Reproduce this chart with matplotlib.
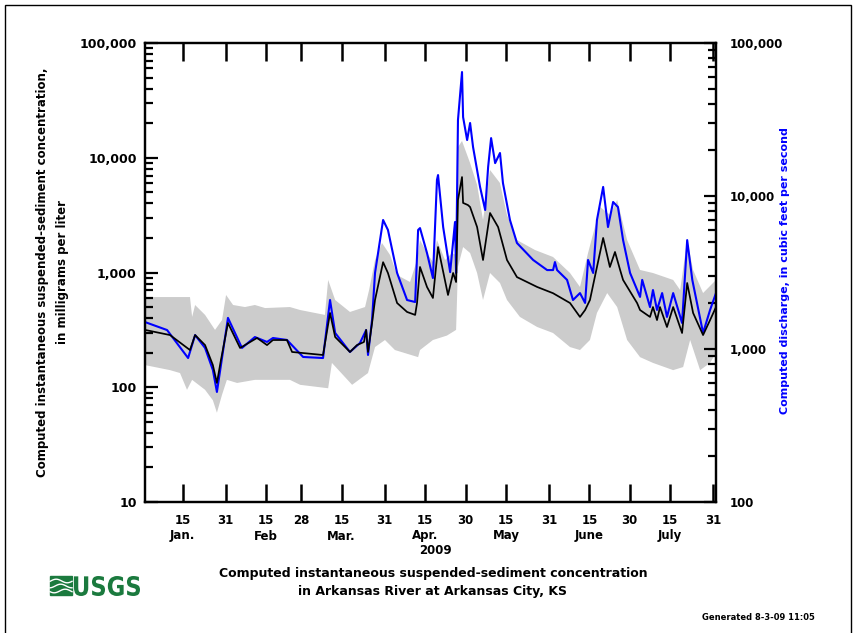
import matplotlib
matplotlib.use('Agg')
import matplotlib.pyplot as plt
import numpy as np
import matplotlib.transforms as mtransforms
from matplotlib.lines import Line2D
from matplotlib.patches import Rectangle, PathPatch
from matplotlib.textpath import TextPath
from matplotlib.font_manager import FontProperties
from matplotlib.ticker import LogLocator, NullFormatter

plt.rcParams['font.family'] = ['DejaVu Sans']
plt.rcParams['font.weight'] = 'bold'

# ---- data (x = days since 1 Jan 2009) ----
conc_days = [0, 9.3, 16.7, 18.6, 22.3, 25.2, 26.7, 28.2, 30.8, 35.3, 41.6, 45.3, 47.5, 52.7, 54.6,
             66.1, 68.7, 70.6, 76.1, 78.7, 81.3, 82.1, 82.8, 84.3, 85.4, 88.4, 90.2, 93.6, 97.3, 100.3,
             101.0, 102.1, 104.7, 106.9, 108.8, 112.5, 114.4, 115.5, 116.2, 117.7, 118.1, 119.9, 120.7,
             123.3, 125.5, 128.1, 131.1, 134.4, 138.1, 145.6, 151.5, 157.8, 161.5, 163.4, 165.2, 167.8,
             170.1, 172.6, 174.5, 176.4, 177.5, 182.7, 183.8, 187.5, 188.6, 190.1, 191.2, 193.8, 196.1,
             199.4, 201.3, 203.5, 207.2, 209.8, 212]
conc_vals = [316, 285, 211, 285, 233, 156, 109, 173, 363, 220, 269, 233, 258, 258, 203,
             191, 444, 274, 203, 233, 248, 316, 203, 363, 576, 1230, 990, 542, 453, 427,
             542, 1117, 748, 600, 1667, 637, 990, 826, 4285, 6790, 4040, 3870, 3720,
             2490, 1285, 3300, 2490, 1285, 912, 748, 660, 542, 410, 471, 576, 1117,
             2000, 1117, 1510, 1052, 861, 542, 471, 410, 500, 385, 500, 335, 500,
             297, 810, 444, 285, 385, 500]

q_days = [0, 8.2, 16.0, 18.6, 22.3, 25.2, 26.7, 28.2, 30.8, 36.0, 40.8, 45.3, 47.5, 52.7, 58.7,
          66.1, 68.7, 70.6, 76.1, 79.8, 82.1, 82.8, 84.3, 85.4, 88.4, 90.2, 93.6, 97.3, 100.3, 101.4,
          102.1, 104.7, 106.9, 108.4, 108.8, 110.7, 113.3, 115.1, 115.5, 116.2, 117.7, 118.1, 119.6,
          120.7, 121.8, 124.4, 126.3, 127.4, 128.5, 130.0, 131.8, 132.9, 135.5, 138.1, 144.1, 149.3,
          151.5, 152.2, 153.0, 156.7, 158.9, 161.5, 163.4, 164.5, 166.4, 167.8, 170.1, 171.9, 173.8,
          175.6, 177.5, 180.1, 183.8, 184.6, 187.5, 188.6, 190.1, 192.0, 193.8, 196.1, 199.4, 201.3,
          203.2, 207.2, 209.8, 212]
q_vals = [1500, 1330, 873, 1233, 1016, 729, 524, 785, 1597, 1016, 1197, 1112, 1180, 1146, 887,
          873, 2090, 1273, 956, 1094, 1330, 914, 1550, 3140, 6970, 6000, 3140, 2090, 2028, 6000,
          6170, 4240, 2910, 12740, 13700, 6270, 3180, 6760, 3140, 31400, 64600, 32800, 23200,
          30000, 20900, 11460, 8100, 15500, 23900, 16400, 19100, 12160, 6970, 4930, 3820, 3280,
          3280, 3700, 3280, 2830, 2090, 2320, 2000, 3820, 3140, 6970, 11460, 6270, 9140,
          8470, 5150, 3140, 2190, 2830, 1880, 2430, 1800, 2320, 1620, 2320, 1480, 5150,
          2830, 1273, 1800, 2320]

up_days = [0, 16.7, 17.5, 18.6, 22.3, 26.0, 28.6, 30.1, 32.7, 37.1, 40.8, 44.6, 53.8, 57.6, 66.8,
           68.0, 70.6, 76.1, 81.7, 83.2, 85.4, 88.0, 91.0, 93.6, 98.4, 101.0, 102.1, 104.7, 106.9,
           108.4, 111.4, 114.0, 115.5, 116.2, 117.7, 120.7, 123.3, 125.5, 128.1, 131.8, 134.4, 138.1,
           144.8, 151.5, 157.8, 161.5, 164.5, 169.0, 172.7, 175.3, 179.0, 183.8, 188.6, 196.1, 198.7,
           201.3, 203.5, 207.2, 212]
up_vals = [611, 611, 410, 521, 427, 316, 385, 637, 521, 500, 521, 490, 500, 471, 427,
           861, 576, 453, 500, 703, 1285, 1807, 1420, 951, 826, 1285, 1918, 1479, 1233,
           1918, 1285, 1479, 1420, 12400, 14000, 8990, 5800, 2870, 7820, 6020, 3170, 1918,
           1570, 1365, 990, 748, 1479, 3720, 3170, 4285, 1918, 1052, 990, 861, 703,
           1918, 1052, 662, 861]

lo_days = [0, 9.3, 13.0, 15.6, 17.5, 22.3, 25.2, 26.7, 28.6, 30.4, 34.2, 40.8, 53.8, 57.6, 68.0,
           69.4, 76.9, 82.8, 85.4, 89.1, 92.8, 101.4, 102.1, 106.9, 112.1, 115.5, 116.2, 118.1,
           120.7, 123.3, 125.5, 128.1, 131.8, 134.4, 139.2, 145.6, 151.5, 157.8, 161.5, 165.2,
           167.8, 171.6, 175.3, 179.0, 183.8, 188.6, 196.1, 199.8, 202.4, 206.1, 209.8, 212]
lo_vals = [156, 141, 133, 95, 116, 95, 77, 60, 86, 116, 109, 116, 116, 105, 98,
           163, 105, 133, 224, 258, 211, 183, 211, 258, 282, 316, 1117, 1667,
           1479, 990, 576, 990, 810, 576, 410, 335, 297, 224, 211, 258,
           444, 662, 500, 258, 183, 163, 141, 150, 258, 141, 163, 199]

tick_days = [14, 30, 45, 58, 73, 89, 104, 119, 134, 150, 165, 180, 195, 211]
tick_labels = ['15', '31', '15', '28', '15', '31', '15', '30', '15', '31', '15', '30', '15', '31']
month_days = [14, 45, 73, 104, 134, 165, 195]
month_labels = ['Jan.', 'Feb', 'Mar.', 'Apr.', 'May', 'June', 'July']
year_label = '2009'

left_ticks = [10, 100, 1000, 10000, 100000]
left_labels = ['10', '100', '1,000', '10,000', '100,000']
right_ticks = [100, 1000, 10000, 100000]
right_labels = ['100', '1,000', '10,000', '100,000']

W, H = 859, 633
def fx(p): return p / W
def fy(p): return 1 - p / H

fig = plt.figure(figsize=(W / 100, H / 100), dpi=100)
ax = fig.add_axes([fx(145), fy(502), (716 - 145) / W, (502 - 43) / H])
ax2 = ax.twinx()

ax.fill(np.r_[up_days, lo_days[::-1]], np.r_[up_vals, lo_vals[::-1]],
        color='#cccccc', lw=0, zorder=1)
ax2.plot(q_days, q_vals, color='#0000ff', lw=1.5, zorder=2)
ax2.add_line(Line2D(conc_days, conc_vals, color='black', lw=1.25, zorder=3,
                    transform=ax.transData))

ax.set_yscale('log')
ax2.set_yscale('log')
ax.set_xlim(0, 212)
ax.set_ylim(10, 1e5)
ax2.set_ylim(100, 1e5)

ax.set_yticks(left_ticks)
ax.set_yticklabels(left_labels)
ax.yaxis.set_minor_locator(LogLocator(base=10, subs=range(2, 10)))
ax.yaxis.set_minor_formatter(NullFormatter())
ax2.set_yticks(right_ticks)
ax2.set_yticklabels(right_labels)
ax2.yaxis.set_minor_locator(LogLocator(base=10, subs=range(2, 10)))
ax2.yaxis.set_minor_formatter(NullFormatter())

ax.set_xticks(tick_days)
ax.set_xticklabels(tick_labels)

ax.tick_params(axis='x', which='major', direction='in', length=13, width=1.8,
               top=True, labelsize=8.5, pad=9)
ax.tick_params(axis='y', which='major', direction='in', length=9, width=1.6,
               labelsize=9, pad=6)
ax.tick_params(axis='y', which='minor', direction='in', length=6, width=1.6)
ax2.tick_params(axis='y', which='major', direction='in', length=9, width=1.6,
                labelsize=8.5, pad=10)
ax2.tick_params(axis='y', which='minor', direction='in', length=6, width=1.6)

for a in (ax, ax2):
    for s in a.spines.values():
        s.set_linewidth(1.6)

bt = mtransforms.blended_transform_factory(ax.transData, fig.transFigure)
for d, lab in zip(month_days, month_labels):
    ax.text(d, fy(536), lab, transform=bt, ha='center', va='center', fontsize=8.5)
ax.text(108, fy(550), year_label, transform=bt, ha='center', va='center', fontsize=8.5)

fig.text(fx(43), fy(272), 'Computed instantaneous suspended-sediment concentration,',
         rotation=90, ha='center', va='center', fontsize=8.5)
fig.text(fx(63), fy(272), 'in milligrams per liter',
         rotation=90, ha='center', va='center', fontsize=8.5)
fig.text(fx(785), fy(271), 'Computed discharge, in cubic feet per second',
         rotation=90, ha='center', va='center', fontsize=8, color='#0000ff')

fig.text(fx(433), fy(573), 'Computed instantaneous suspended-sediment concentration',
         ha='center', va='center', fontsize=9)
fig.text(fx(433), fy(592), 'in Arkansas River at Arkansas City, KS',
         ha='center', va='center', fontsize=9)
fig.text(fx(758), fy(617), 'Generated 8-3-09 11:05', ha='center', va='center', fontsize=6)

# USGS logo (pixel-space axes)
green = '#1b7a3e'
lax = fig.add_axes([fx(48), fy(600), 100 / W, 30 / H])
lax.set_xlim(48, 148)
lax.set_ylim(600, 570)
lax.axis('off')
lax.add_patch(Rectangle((50, 576), 22, 19, color=green))
t = np.linspace(50, 72, 60)
for off in (581, 586, 591):
    lax.plot(t, off + 1.8 * np.sin((t - 50) / 22 * 2 * np.pi + off), color='white', lw=1.0)
tp = TextPath((0, 0), 'USGS', size=1, prop=FontProperties(family='DejaVu Sans', weight='bold'))
bb = tp.get_extents()
sx = (140 - 74) / bb.width
sy = (596 - 576) / bb.height
tr = mtransforms.Affine2D().translate(-bb.x0, -bb.y0).scale(sx, -sy).translate(74, 596)
lax.add_patch(PathPatch(tr.transform_path(tp), color=green, lw=0))

# figure border
fig.add_artist(Rectangle((fx(5), -0.1), (851 - 5) / W, fy(5) + 0.1, fill=False,
                         lw=1.0, edgecolor='black', transform=fig.transFigure))

fig.savefig('out.png', dpi=100)
